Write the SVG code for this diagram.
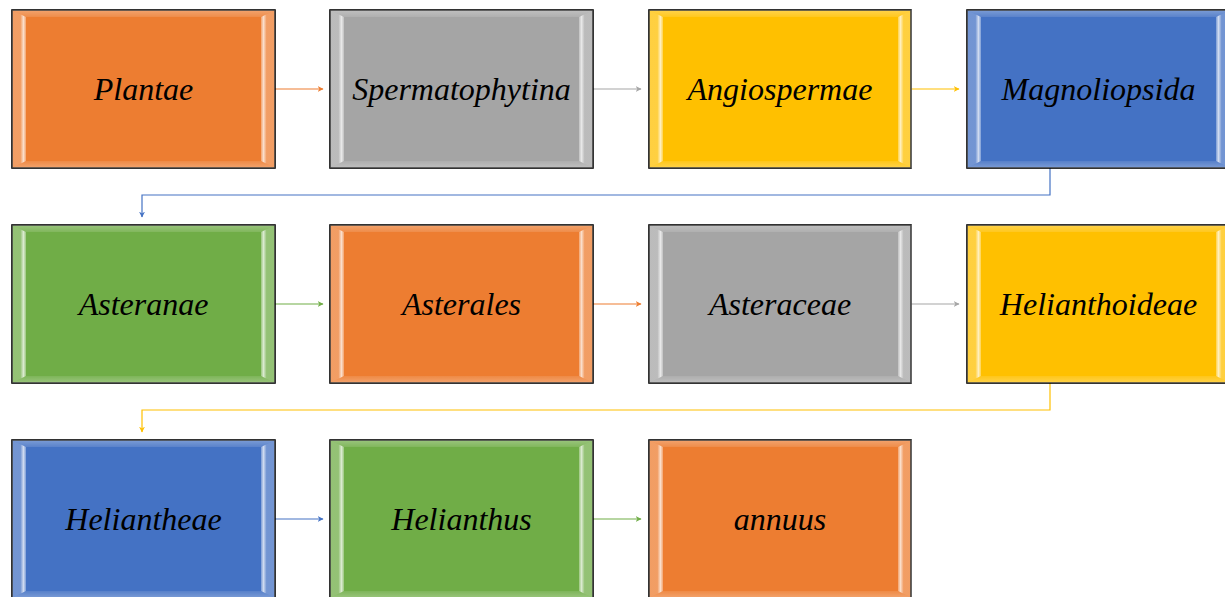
<svg xmlns="http://www.w3.org/2000/svg" xmlns:xlink="http://www.w3.org/1999/xlink" width="1225" height="597" viewBox="0 0 1225 597">
<defs>
<style>
.box{stroke:#000;stroke-width:1.6}
.lbl{font-family:'Liberation Serif','Times New Roman','DejaVu Serif',serif;font-style:italic;font-size:32px;fill:#000;text-anchor:middle}
.con{fill:none;stroke-width:1.2}
.orange{fill:#ED7D31}.gray{fill:#A5A5A5}.gold{fill:#FFC000}.blue{fill:#4472C4}.green{fill:#70AD47}
</style>
<linearGradient id="gl" x1="0" y1="0" x2="1" y2="0">
<stop offset="0" stop-color="#fff" stop-opacity="0.25"/>
<stop offset="0.6" stop-color="#fff" stop-opacity="0.25"/>
<stop offset="0.82" stop-color="#fff" stop-opacity="0.75"/>
<stop offset="1" stop-color="#fff" stop-opacity="0.3"/>
</linearGradient>
<linearGradient id="gr" x1="1" y1="0" x2="0" y2="0">
<stop offset="0" stop-color="#fff" stop-opacity="0.25"/>
<stop offset="0.6" stop-color="#fff" stop-opacity="0.25"/>
<stop offset="0.82" stop-color="#fff" stop-opacity="0.75"/>
<stop offset="1" stop-color="#fff" stop-opacity="0.3"/>
</linearGradient>
<linearGradient id="gt" x1="0" y1="0" x2="0" y2="1">
<stop offset="0" stop-color="#fff" stop-opacity="0.3"/>
<stop offset="1" stop-color="#fff" stop-opacity="0.12"/>
</linearGradient>
<linearGradient id="gb" x1="0" y1="1" x2="0" y2="0">
<stop offset="0" stop-color="#fff" stop-opacity="0.3"/>
<stop offset="1" stop-color="#fff" stop-opacity="0.1"/>
</linearGradient>
<g id="bevel">
<polygon points="0,0 263,0 249,7 14,7" fill="url(#gt)"/>
<polygon points="0,158 263,158 249,151 14,151" fill="url(#gb)"/>
<polygon points="0,0 14,7 14,151 0,158" fill="url(#gl)"/>
<polygon points="263,0 249,7 249,151 263,158" fill="url(#gr)"/>
</g>
<marker id="aOr" viewBox="0 0 10 10" refX="9" refY="5" markerWidth="6" markerHeight="6" orient="auto" markerUnits="userSpaceOnUse"><path d="M0,0 L10,5 L0,10 L3,5 z" fill="#ED7D31"/></marker>
<marker id="aGr" viewBox="0 0 10 10" refX="9" refY="5" markerWidth="6" markerHeight="6" orient="auto" markerUnits="userSpaceOnUse"><path d="M0,0 L10,5 L0,10 L3,5 z" fill="#A5A5A5"/></marker>
<marker id="aGo" viewBox="0 0 10 10" refX="9" refY="5" markerWidth="6" markerHeight="6" orient="auto" markerUnits="userSpaceOnUse"><path d="M0,0 L10,5 L0,10 L3,5 z" fill="#FFC000"/></marker>
<marker id="aBl" viewBox="0 0 10 10" refX="9" refY="5" markerWidth="6" markerHeight="6" orient="auto" markerUnits="userSpaceOnUse"><path d="M0,0 L10,5 L0,10 L3,5 z" fill="#4472C4"/></marker>
<marker id="aGn" viewBox="0 0 10 10" refX="9" refY="5" markerWidth="6" markerHeight="6" orient="auto" markerUnits="userSpaceOnUse"><path d="M0,0 L10,5 L0,10 L3,5 z" fill="#70AD47"/></marker>
</defs>
<rect width="1225" height="597" fill="#fff"/>

<g id="connectors">
<line class="con" x1="275" y1="89" x2="323" y2="89" stroke="#ED7D31" marker-end="url(#aOr)"/>
<line class="con" x1="593" y1="89" x2="641" y2="89" stroke="#A5A5A5" marker-end="url(#aGr)"/>
<line class="con" x1="911" y1="89" x2="959" y2="89" stroke="#FFC000" marker-end="url(#aGo)"/>
<polyline class="con" points="1050,168 1050,195 142,195 142,217" stroke="#4472C4" marker-end="url(#aBl)"/>
<line class="con" x1="275" y1="304" x2="323" y2="304" stroke="#70AD47" marker-end="url(#aGn)"/>
<line class="con" x1="593" y1="304" x2="641" y2="304" stroke="#ED7D31" marker-end="url(#aOr)"/>
<line class="con" x1="911" y1="304" x2="959" y2="304" stroke="#A5A5A5" marker-end="url(#aGr)"/>
<polyline class="con" points="1050,383 1050,410 142,410 142,432" stroke="#FFC000" marker-end="url(#aGo)"/>
<line class="con" x1="275" y1="519" x2="323" y2="519" stroke="#4472C4" marker-end="url(#aBl)"/>
<line class="con" x1="593" y1="519" x2="641" y2="519" stroke="#70AD47" marker-end="url(#aGn)"/>
</g>

<g id="n1"><rect class="box orange" x="12" y="10" width="263" height="158"/><use xlink:href="#bevel" x="12" y="10"/><text class="lbl" x="143.5" y="100">Plantae</text></g>
<g id="n2"><rect class="box gray" x="330" y="10" width="263" height="158"/><use xlink:href="#bevel" x="330" y="10"/><text class="lbl" x="461.5" y="100">Spermatophytina</text></g>
<g id="n3"><rect class="box gold" x="649" y="10" width="262" height="158"/><use xlink:href="#bevel" x="649" y="10"/><text class="lbl" x="780" y="100">Angiospermae</text></g>
<g id="n4"><rect class="box blue" x="967" y="10" width="263" height="158"/><use xlink:href="#bevel" x="967" y="10"/><text class="lbl" x="1098.5" y="100">Magnoliopsida</text></g>

<g id="n5"><rect class="box green" x="12" y="225" width="263" height="158"/><use xlink:href="#bevel" x="12" y="225"/><text class="lbl" x="143.5" y="315">Asteranae</text></g>
<g id="n6"><rect class="box orange" x="330" y="225" width="263" height="158"/><use xlink:href="#bevel" x="330" y="225"/><text class="lbl" x="461.5" y="315">Asterales</text></g>
<g id="n7"><rect class="box gray" x="649" y="225" width="262" height="158"/><use xlink:href="#bevel" x="649" y="225"/><text class="lbl" x="780" y="315">Asteraceae</text></g>
<g id="n8"><rect class="box gold" x="967" y="225" width="263" height="158"/><use xlink:href="#bevel" x="967" y="225"/><text class="lbl" x="1098.5" y="315">Helianthoideae</text></g>

<g id="n9"><rect class="box blue" x="12" y="440" width="263" height="158"/><use xlink:href="#bevel" x="12" y="440"/><text class="lbl" x="143.5" y="530">Heliantheae</text></g>
<g id="n10"><rect class="box green" x="330" y="440" width="263" height="158"/><use xlink:href="#bevel" x="330" y="440"/><text class="lbl" x="461.5" y="530">Helianthus</text></g>
<g id="n11"><rect class="box orange" x="649" y="440" width="262" height="158"/><use xlink:href="#bevel" x="649" y="440"/><text class="lbl" x="780" y="530">annuus</text></g>
</svg>
